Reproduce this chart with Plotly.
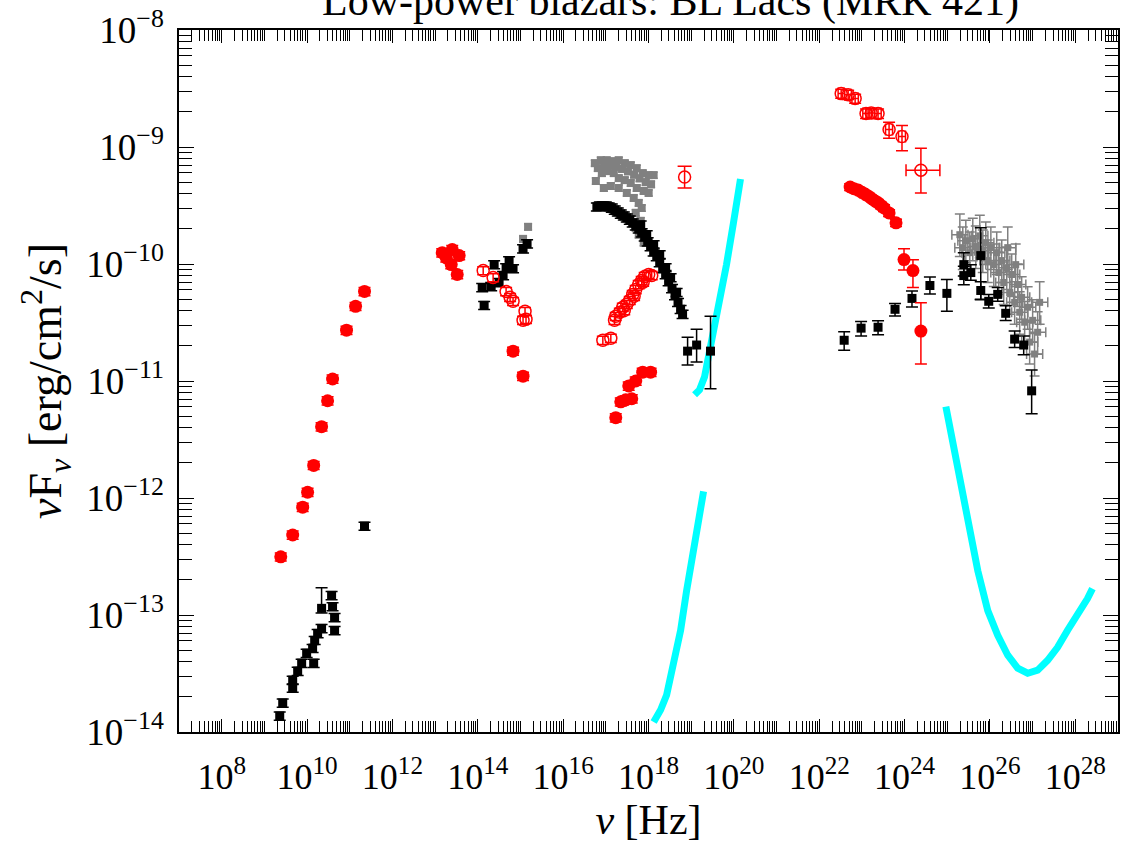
import plotly.graph_objects as go

# ---------------- data (nu [Hz], nuFnu [erg/cm2/s]) ----------------
# red filled circles
red_fill_nu = [2.42e9, 4.61e9, 7.9e9, 1.03e10, 1.43e10, 2.19e10, 3.03e10, 3.96e10, 8.41e10, 1.37e11, 2.22e11,
               1.47e13, 2.52e13, 3.67e13, 2.39e13, 3.3e13, 1.83e13,
               6.71e14, 1.15e15,
               1.71e17, 2.24e17, 2.93e17, 4.05e17, 3.44e17, 5.02e17, 7.31e17, 1.12e18]
red_fill_flux = [3.14e-13, 4.83e-13, 8.35e-13, 1.12e-12, 1.9e-12, 4.07e-12, 6.78e-12, 1.04e-11, 2.72e-11, 4.35e-11, 5.83e-11,
                 1.25e-10, 1.33e-10, 1.18e-10, 9.88e-11, 8.13e-11, 1.13e-10,
                 1.8e-11, 1.1e-11,
                 4.86e-12, 6.64e-12, 6.9e-12, 7.05e-12, 9.08e-12, 1.0e-11, 1.19e-11, 1.19e-11]

red_gam_nu = [5.3e22, 6.5e22, 8.15e22, 1.0e23, 1.19e23, 1.45e23, 1.73e23, 2.05e23, 2.39e23, 2.8e23, 3.3e23, 4.33e23, 6.3e23,
              9.69e23, 1.57e24, 2.41e24]
red_gam_flux = [4.55e-10, 4.4e-10, 4.28e-10, 4.1e-10, 3.96e-10, 3.78e-10, 3.6e-10, 3.45e-10, 3.33e-10, 3.17e-10, 3.01e-10,
                2.73e-10, 2.25e-10, 1.09e-10, 8.79e-11, 2.67e-11]
red_gam_errp = [3e-11, 3e-11, 3e-11, 2.5e-11, 2.5e-11, 2.5e-11, 2e-11, 2e-11, 2e-11, 2e-11, 2e-11, 1.8e-11, 1.6e-11,
                2.6e-11, 2.1e-11, 2.0e-11]
red_gam_errm = [3e-11, 3e-11, 3e-11, 2.5e-11, 2.5e-11, 2.5e-11, 2e-11, 2e-11, 2e-11, 2e-11, 2e-11, 1.8e-11, 1.6e-11,
                2.0e-11, 2.5e-11, 1.27e-11]

# red open circles
red_open_nu = [1.34e14, 2.29e14, 4.61e14, 5.72e14, 6.71e14, 1.28e15, 1.35e15, 1.15e15,
               8.51e16, 1.31e17, 1.71e17, 2.13e17, 2.5e17, 3.1e17, 3.64e17, 4.27e17, 5.02e17, 5.9e17,
               6.93e17, 8.15e17, 1.01e18, 1.19e18, 1.6e17, 2.7e17, 4.6e17, 7.5e17]
red_open_flux = [8.79e-11, 7.66e-11, 5.83e-11, 5.19e-11, 4.8e-11, 3.94e-11, 3.37e-11, 3.31e-11,
                 2.23e-11, 2.32e-11, 3.57e-11, 3.87e-11, 4.27e-11, 4.52e-11, 4.89e-11, 5.5e-11, 6.05e-11, 6.68e-11,
                 7.23e-11, 7.82e-11, 8.13e-11, 7.97e-11, 3.3e-11, 4.0e-11, 5.3e-11, 7.0e-11]

red_open_hx_nu = [7.01e18]
red_open_hx_flux = [5.53e-10]
red_open_hx_errp = [1.33e-10]
red_open_hx_errm = [1.07e-10]

red_open_gam_nu = [3.27e22, 4.76e22, 6.94e22, 1.25e23, 1.65e23, 2.39e23, 4.33e23, 8.69e23, 2.41e24]
red_open_gam_flux = [2.86e-9, 2.8e-9, 2.6e-9, 1.93e-9, 1.95e-9, 1.93e-9, 1.41e-9, 1.23e-9, 6.34e-10]
red_open_gam_errp = [2.5e-10, 2.5e-10, 2.3e-10, 1.8e-10, 1.8e-10, 1.8e-10, 2.2e-10, 3.0e-10, 3.41e-10]
red_open_gam_errm = [2.5e-10, 2.5e-10, 2.3e-10, 1.8e-10, 1.8e-10, 1.8e-10, 2.2e-10, 3.0e-10, 2.29e-10]
red_open_gam_xerrp = [0.6e22, 0.9e22, 1.3e22, 2.3e22, 3.0e22, 4.4e22, 9.0e22, 1.8e23, 4.3e24]
red_open_gam_xerrm = [0.5e22, 0.8e22, 1.1e22, 2.0e22, 2.6e22, 3.8e22, 7.5e22, 1.5e23, 1.33e24]

# black squares
blk_nu = [2.29e9, 2.69e9, 4.61e9, 4.61e9, 6.03e9, 7.48e9, 9.79e9, 1.35e10, 1.43e10, 1.51e10, 1.77e10, 2.19e10,
          3.76e10, 3.96e10, 4.42e10, 4.42e10, 2.22e11,
          1.41e14, 1.27e14, 2.06e14, 3.16e14, 3.92e14, 4.61e14, 5.42e14, 6.71e14, 2.42e14, 1.15e15, 1.43e15,
          6.17e16, 7.24e16, 8.51e16, 1.0e17, 1.17e17, 1.38e17, 1.62e17, 1.91e17, 2.24e17, 2.64e17, 3.1e17,
          3.64e17, 4.27e17, 5.02e17, 5.9e17, 6.93e17, 8.15e17, 9.57e17, 1.12e18, 1.32e18, 1.56e18, 1.83e18,
          2.15e18, 2.52e18, 2.96e18, 3.56e18, 4.18e18, 4.92e18, 5.65e18, 6.29e18,
          6.57e17, 9.08e17, 1.32e18, 1.83e18, 2.52e18, 3.3e18, 4.56e18]
blk_flux = [1.37e-14, 1.77e-14, 2.38e-14, 2.77e-14, 3.31e-14, 3.87e-14, 4.71e-14, 5.19e-14, 3.87e-14, 6.07e-14, 6.96e-14, 7.68e-14,
            1.47e-13, 1.18e-13, 9.53e-14, 7.38e-14, 5.75e-13,
            4.43e-11, 6.3e-11, 6.43e-11, 6.95e-11, 7.97e-11, 9.31e-11, 1.07e-10, 9.14e-11, 9.88e-11, 1.35e-10, 1.49e-10,
            3.08e-10, 3.13e-10, 3.13e-10, 3.13e-10, 3.08e-10, 3.01e-10, 2.9e-10, 2.79e-10, 2.68e-10, 2.58e-10, 2.48e-10,
            2.38e-10, 2.25e-10, 2.12e-10, 2.0e-10, 1.85e-10, 1.71e-10, 1.55e-10, 1.41e-10, 1.27e-10, 1.16e-10, 1.03e-10,
            9.14e-11, 8.13e-11, 7.08e-11, 6.18e-11, 5.39e-11, 4.7e-11, 4.1e-11, 3.72e-11,
            2.16e-10, 1.78e-10, 1.46e-10, 1.2e-10, 9.31e-11, 7.66e-11, 5.72e-11]

blk_err_nu = [2.19e10, 8.24e18, 1.34e19, 2.84e19,
              3.84e22, 9.57e22, 2.39e23, 5.97e23, 1.49e24, 3.92e24, 9.79e24,
              2.44e25, 2.44e25, 3.56e25, 6.09e25, 6.09e25, 9.37e25, 1.52e26, 2.34e26, 3.79e26, 6.17e26, 9.48e26]
blk_err_flux = [1.14e-13, 1.8e-11, 2.03e-11, 1.8e-11,
                2.23e-11, 2.83e-11, 2.88e-11, 4.1e-11, 5.08e-11, 6.55e-11, 5.61e-11,
                9.88e-11, 7.96e-11, 8.45e-11, 1.18e-10, 5.94e-11, 4.8e-11, 5.5e-11, 3.79e-11, 2.28e-11, 2.03e-11, 8.24e-12]
blk_errp = [5.7e-14, 5.7e-12, 7.4e-12, 1.77e-11,
            4e-12, 4e-12, 4e-12, 5e-12, 8e-12, 1.2e-11, 1.75e-11,
            2.6e-11, 1.6e-11, 1.4e-11, 8.6e-11, 1.1e-11, 7e-12, 8e-12, 6e-12, 4e-12, 4e-12, 4.2e-12]
blk_errm = [1.0e-14, 4.3e-12, 5.8e-12, 9.4e-12,
            4e-12, 4e-12, 4e-12, 5e-12, 8e-12, 1.0e-11, 1.67e-11,
            2.0e-11, 1.3e-11, 1.2e-11, 6.8e-11, 1.0e-11, 6e-12, 7e-12, 5e-12, 3.5e-12, 3.5e-12, 3.0e-12]

# grey squares
grey_nu = [5.53e16, 7.64e16, 1.05e17, 1.46e17, 2.01e17, 2.78e17, 3.84e17, 5.3e17, 7.31e17, 1.01e18, 1.32e18,
           5.84e16, 8.07e16, 1.11e17, 1.54e17, 2.01e17, 2.78e17, 3.84e17, 5.3e17, 7.72e17, 1.01e18,
           8.98e16, 1.31e17, 2.01e17, 3.1e17, 4.51e17, 5.9e17, 6.93e17, 5.02e17, 6.57e17, 5.02e17, 5.9e17, 7.72e17,
           6.5e16, 9.5e16, 1.25e17, 1.75e17, 2.4e17, 3.3e17, 4.6e17, 6.2e17, 8.6e17, 1.15e18,
           1.51e15, 1.15e15]
grey_flux = [7.27e-10, 7.7e-10, 7.7e-10, 7.56e-10, 7.7e-10, 7.27e-10, 7.0e-10, 6.59e-10, 5.98e-10, 5.75e-10, 5.75e-10,
             5.12e-10, 5.98e-10, 6.22e-10, 5.98e-10, 5.42e-10, 5.21e-10, 4.92e-10, 4.46e-10, 4.21e-10, 4.05e-10,
             4.46e-10, 4.64e-10, 4.46e-10, 4.05e-10, 3.67e-10, 3.33e-10, 3.01e-10, 2.74e-10, 2.34e-10, 2.04e-10,
             1.78e-10, 1.52e-10,
             6.6e-10, 6.9e-10, 7.0e-10, 6.8e-10, 6.5e-10, 6.2e-10, 5.8e-10, 5.4e-10, 5.0e-10, 4.8e-10,
             2.08e-10, 1.64e-10]

grey_tev_nu = [1.97e25, 2.31e25, 2.72e25, 3.37e25, 3.96e25, 4.66e25, 5.78e25, 6.79e25, 7.98e25, 8.89e25, 1.05e26,
               1.23e26, 1.44e26, 1.61e26, 1.89e26, 2.1e26, 2.47e26, 2.9e26, 3.23e26, 3.79e26, 4.47e26, 4.97e26,
               5.53e26, 6.5e26, 7.64e26, 8.51e26, 1.0e27, 1.11e27, 1.31e27, 1.46e27, 4.01e26, 2.61e26]
grey_tev_flux = [1.78e-10, 1.38e-10, 1.58e-10, 1.25e-10, 1.64e-10, 1.41e-10, 1.74e-10, 1.3e-10, 1.52e-10, 1.07e-10,
                 1.38e-10, 9.88e-11, 1.25e-10, 8.45e-11, 1.07e-10, 6.95e-11, 9.31e-11, 5.71e-11, 8.13e-11, 4.7e-11,
                 6.68e-11, 3.87e-11, 5.19e-11, 3.18e-11, 4.27e-11, 2.15e-11, 3.3e-11, 1.7e-11, 2.61e-11, 4.7e-11,
                 9.88e-11, 1.38e-10]

# cyan sensitivity curves
cyan_a_nu = [1.32e18, 1.93e18, 2.66e18, 3.88e18, 5.65e18, 7.81e18, 1.14e19, 1.49e19, 1.95e19]
cyan_a_flux = [1.22e-14, 1.55e-14, 2.07e-14, 3.72e-14, 7.38e-14, 1.61e-13, 3.89e-13, 6.35e-13, 1.14e-12]
cyan_b_nu = [1.2e19, 1.57e19, 2.05e19, 2.84e19, 4.37e19, 6.72e19, 9.79e19, 1.43e20]
cyan_b_flux = [7.62e-12, 8.4e-12, 1.08e-11, 1.95e-11, 4.27e-11, 9.88e-11, 2.25e-10, 5.32e-10]
cyan_c_nu = [9.27e24, 1.35e25, 1.97e25, 3.03e25, 5.19e25, 8.89e25, 1.52e26, 2.61e26, 4.47e26, 7.64e26, 1.31e27,
             2.24e27, 3.84e27, 6.57e27, 1.12e28, 1.93e28, 2.52e28]
cyan_c_flux = [6.03e-12, 3.04e-12, 1.39e-12, 6.35e-13, 2.39e-13, 1.09e-13, 6.7e-14, 4.53e-14, 3.51e-14, 3.18e-14,
               3.38e-14, 4.1e-14, 5.29e-14, 7.38e-14, 9.9e-14, 1.38e-13, 1.68e-13]

x_label_exp = list(range(8, 29, 2))
x_decade_exp = list(range(7, 30))
y_tick_exp = list(range(-14, -7))

title_text = "Low-power blazars: BL Lacs (MRK 421)"

# ---------------- figure ----------------
FONT = "Liberation Serif"
RED = "#ff0000"
CYAN = "#00ffff"
GREY = "#808080"

fig = go.Figure()

for nx, ny in [(cyan_a_nu, cyan_a_flux), (cyan_b_nu, cyan_b_flux), (cyan_c_nu, cyan_c_flux)]:
    fig.add_trace(go.Scatter(x=nx, y=ny, mode="lines", line=dict(color=CYAN, width=7), hoverinfo="skip"))

# grey
fig.add_trace(go.Scatter(x=grey_tev_nu, y=grey_tev_flux, mode="markers",
                         marker=dict(symbol="square", size=7, color=GREY),
                         error_y=dict(type="percent", value=50, valueminus=35, color=GREY, thickness=1.5, width=5),
                         error_x=dict(type="percent", value=55, valueminus=35, color=GREY, thickness=1.5, width=5)))
fig.add_trace(go.Scatter(x=grey_nu, y=grey_flux, mode="markers",
                         marker=dict(symbol="square", size=8, color=GREY),
                         error_y=dict(type="percent", value=6, color=GREY, thickness=1.5, width=4)))

# black
fig.add_trace(go.Scatter(x=blk_nu, y=blk_flux, mode="markers",
                         marker=dict(symbol="square", size=9, color="black"),
                         error_y=dict(type="percent", value=8, color="black", thickness=1.5, width=6)))
fig.add_trace(go.Scatter(x=blk_err_nu, y=blk_err_flux, mode="markers",
                         marker=dict(symbol="square", size=9, color="black"),
                         error_y=dict(type="data", array=blk_errp, arrayminus=blk_errm, color="black",
                                      thickness=1.5, width=6)))

# red filled
fig.add_trace(go.Scatter(x=red_fill_nu, y=red_fill_flux, mode="markers",
                         marker=dict(symbol="circle", size=13, color=RED),
                         error_y=dict(type="percent", value=8, color=RED, thickness=1.5, width=6)))
fig.add_trace(go.Scatter(x=red_gam_nu, y=red_gam_flux, mode="markers",
                         marker=dict(symbol="circle", size=13, color=RED),
                         error_y=dict(type="data", array=red_gam_errp, arrayminus=red_gam_errm, color=RED,
                                      thickness=1.5, width=6)))

# red open
fig.add_trace(go.Scatter(x=red_open_nu, y=red_open_flux, mode="markers",
                         marker=dict(symbol="circle-open", size=12, color=RED, line=dict(width=1.5, color=RED)),
                         error_y=dict(type="percent", value=8, color=RED, thickness=1.5, width=6)))
fig.add_trace(go.Scatter(x=red_open_hx_nu, y=red_open_hx_flux, mode="markers",
                         marker=dict(symbol="circle-open", size=12, color=RED, line=dict(width=1.5, color=RED)),
                         error_y=dict(type="data", array=red_open_hx_errp, arrayminus=red_open_hx_errm,
                                      color=RED, thickness=1.5, width=7)))
fig.add_trace(go.Scatter(x=red_open_gam_nu, y=red_open_gam_flux, mode="markers",
                         marker=dict(symbol="circle-open", size=12, color=RED, line=dict(width=1.5, color=RED)),
                         error_y=dict(type="data", array=red_open_gam_errp, arrayminus=red_open_gam_errm,
                                      color=RED, thickness=1.5, width=6),
                         error_x=dict(type="data", array=red_open_gam_xerrp, arrayminus=red_open_gam_xerrm,
                                      color=RED, thickness=1.5, width=6)))

x_vals = [10.0 ** e for e in x_label_exp]
x_text = [f"10<sup>{e}</sup>" for e in x_label_exp]
x_minor = [k * 10.0 ** e for e in x_decade_exp[:-1] for k in range(1, 10)
           if not (k == 1 and e in x_label_exp)]
y_vals = [10.0 ** e for e in y_tick_exp]
y_text = [f"10<sup>\u2212{-e}</sup>" for e in y_tick_exp]
y_minor = [k * 10.0 ** e for e in y_tick_exp[:-1] for k in range(2, 10)]

axis_common = dict(type="log", showgrid=False, zeroline=False, showline=True, linecolor="black", linewidth=1.5,
                   mirror="allticks", ticks="inside", tickcolor="black", tickwidth=1)

fig.update_layout(
    width=1124, height=852,
    margin=dict(l=179, r=4, t=26, b=120),
    paper_bgcolor="white", plot_bgcolor="white",
    showlegend=False,
    font=dict(family=FONT, color="black"),
    xaxis=dict(**axis_common, range=[7, 29], tickmode="array", tickvals=x_vals, ticktext=x_text, ticklen=13,
               ticklabelstandoff=12, tickfont=dict(family=FONT, size=36, color="black"),
               minor=dict(tickmode="array", tickvals=x_minor, ticks="inside", ticklen=11, tickcolor="black",
                          tickwidth=1),
               title=dict(text="<i>\u03bd</i> [Hz]", font=dict(family=FONT, size=42, color="black"), standoff=8)),
    yaxis=dict(**axis_common, range=[-14, -8], tickmode="array", tickvals=y_vals, ticktext=y_text, ticklen=15,
               ticklabelstandoff=6, tickfont=dict(family=FONT, size=37, color="black"),
               minor=dict(tickmode="array", tickvals=y_minor, ticks="inside", ticklen=13, tickcolor="black",
                          tickwidth=1),
               title=dict(text="<i>\u03bd</i>F<sub><i>\u03bd</i></sub> [erg/cm<sup>2</sup>/s]",
                          font=dict(family=FONT, size=46, color="black"), standoff=10)),
    annotations=[dict(text=title_text, xref="paper", yref="paper", x=0.523, y=1.04, xanchor="center",
                      yanchor="middle", showarrow=False, font=dict(family=FONT, size=42, color="black"))],
)

fig.write_html("out.html", config={"displayModeBar": False},
               post_script="document.body.style.margin='0px';document.body.style.overflow='hidden';")
